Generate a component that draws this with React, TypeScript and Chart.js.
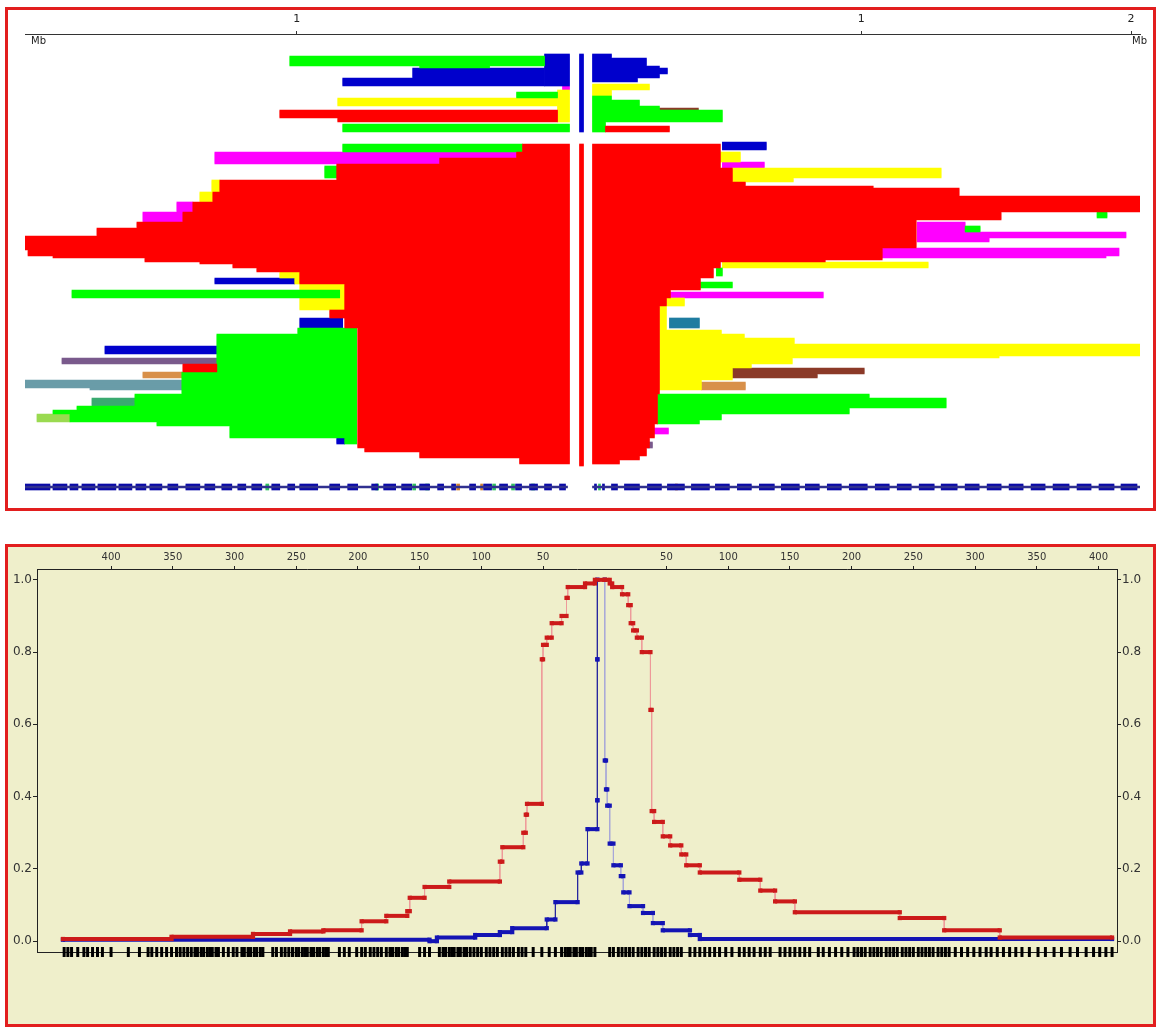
import React, { useEffect, useRef } from 'react';
import { Chart, registerables } from 'chart.js';

Chart.register(...registerables);

// ---------- Top panel: haplotype bifurcation (rows = haplotype index, x = kb from core) ----------
const ROW_COUNT = 232;
const axisTickValues = [-284, 281, 551];
const axisTickLabels = ['1', '1', '2'];

// [rowStart, rowEnd, kbFrom, kbTo]
const redBlocks = [
  [38, 42, -301, -23], [42, 44, -243, -23], [46, 49, 25, 89],
  [55, 216, -1, 3],
  [55, 59, -58, -11], [59, 62, -64, -11], [62, 65, -141, -11], [65, 73, -244, -11], [73, 79, -361, -11],
  [79, 84, -368, -11], [84, 89, -388, -11], [89, 94, -398, -11], [94, 97, -444, -11], [97, 101, -484, -11],
  [101, 108, -556, -11], [108, 111, -553, -11], [111, 112, -528, -11], [112, 114, -436, -11], [114, 115, -381, -11],
  [115, 117, -348, -11], [117, 119, -324, -11], [119, 125, -281, -11], [125, 147, -236, -11], [138, 142, -251, -236],
  [147, 207, -223, -11], [165, 169, -398, -364], [207, 209, -216, -11], [209, 212, -161, -11], [212, 215, -61, -11],
  [55, 67, 12, 140], [67, 74, 12, 152], [74, 76, 12, 165], [76, 77, 12, 293], [77, 81, 12, 379], [81, 89, 12, 560],
  [89, 93, 12, 421], [93, 107, 12, 336], [107, 113, 12, 302], [113, 114, 12, 245], [114, 117, 12, 140],
  [117, 122, 12, 133], [122, 128, 12, 120], [128, 132, 12, 90], [132, 136, 12, 86], [136, 180, 12, 79],
  [180, 195, 12, 77], [195, 202, 12, 74], [202, 207, 12, 69], [207, 211, 12, 66], [211, 213, 12, 59], [213, 215, 12, 39],
];
const greenBlocks = [
  [11, 16, -291, -36], [16, 17, -161, -91], [29, 32, -64, -23], [45, 49, -238, -11],
  [31, 33, 12, 31], [33, 36, 12, 59], [36, 38, 12, 79], [38, 44, 12, 142], [44, 49, 12, 25],
  [55, 59, -238, -58], [66, 72, -256, -244], [128, 132, -509, -241], [147, 150, -283, -224], [150, 169, -364, -224],
  [169, 180, -399, -224], [180, 186, -446, -224], [186, 188, -504, -224], [188, 190, -528, -224], [190, 194, -511, -224],
  [194, 196, -424, -224], [196, 202, -351, -224], [202, 205, -236, -224],
  [89, 92, 517, 527], [96, 99, 385, 400], [117, 121, 136, 142], [124, 127, 120, 152], [180, 182, 77, 289],
  [182, 187, 77, 366], [187, 190, 77, 269], [190, 193, 77, 141], [193, 195, 77, 119],
];
const yellowBlocks = [
  [28, 44, -23, -11], [32, 36, -243, -23], [25, 28, 12, 69], [28, 31, 12, 31],
  [73, 79, -369, -361], [79, 84, -381, -368], [119, 122, -301, -281], [122, 125, -286, -281], [125, 128, -281, -236],
  [128, 132, -241, -236], [132, 138, -281, -236],
  [59, 64, 140, 160], [67, 72, 152, 361], [72, 74, 152, 213], [114, 117, 142, 348], [132, 136, 86, 104],
  [136, 148, 79, 86], [148, 150, 79, 141], [150, 152, 79, 164], [152, 155, 79, 214], [155, 161, 79, 560],
  [161, 162, 79, 419], [162, 165, 79, 212], [165, 167, 79, 171], [167, 173, 79, 152], [173, 178, 79, 121],
];
const blueBlocks = [
  [10, 26, -36, -11], [17, 22, -168, -36], [22, 26, -238, -36], [10, 49, -1, 3],
  [10, 12, 12, 31], [12, 16, 12, 66], [16, 17, 12, 79], [17, 20, 12, 87], [20, 22, 12, 79], [22, 24, 12, 57],
  [122, 125, -366, -286], [142, 147, -281, -238], [156, 160, -476, -364], [202, 205, -244, -236],
  [54, 58, 142, 186],
];
const magentaBlocks = [
  [26, 28, -18, -11], [59, 62, -366, -64], [62, 65, -366, -141], [84, 89, -404, -388], [89, 94, -438, -398],
  [64, 67, 142, 184], [94, 99, 337, 385], [99, 102, 337, 546], [102, 104, 337, 409], [107, 111, 302, 539],
  [111, 112, 302, 526], [129, 132, 90, 243], [197, 200, 74, 88],
];
const brownBlocks = [[37, 40, 79, 118], [167, 170, 152, 284], [170, 172, 152, 237]];
const orangeBlocks = [[169, 172, -438, -399], [174, 178, 121, 165]];
const slateBlocks = [[173, 177, -556, -399], [177, 178, -491, -399]];
const tealBlueBlocks = [[142, 147, 89, 119]];
const purpleBlocks = [[162, 165, -519, -364], [204, 207, 67, 72]];
const seaGreenBlocks = [[182, 186, -489, -446]];
const paleGreenBlocks = [[190, 194, -544, -511]];
const markerLineBlocks = [[226, 227, -556, -13], [226, 227, 12, 560]];
const markerBlocks = [
  [225, 228, -556, -531], [225, 228, -528, -514], [225, 228, -511, -503], [225, 228, -499, -486], [225, 228, -483, -465],
  [225, 228, -462, -449], [225, 228, -445, -435], [225, 228, -431, -419], [225, 228, -413, -403], [225, 228, -395, -381],
  [225, 228, -376, -366], [225, 228, -359, -349], [225, 228, -343, -335], [225, 228, -329, -319], [225, 228, -309, -301],
  [225, 228, -293, -286], [225, 228, -281, -263], [225, 228, -251, -241], [225, 228, -233, -223], [225, 228, -209, -203],
  [225, 228, -197, -185], [225, 228, -179, -169], [225, 228, -161, -151], [225, 228, -143, -137], [225, 228, -129, -125],
  [225, 228, -111, -105], [225, 228, -97, -89], [225, 228, -81, -73], [225, 228, -65, -59], [225, 228, -51, -43],
  [225, 228, -36, -29], [225, 228, -21, -15],
  [225, 228, 14, 16], [225, 228, 22, 24], [225, 228, 31, 37], [225, 228, 44, 59], [225, 228, 67, 81], [225, 228, 87, 104],
  [225, 228, 111, 129], [225, 228, 135, 149], [225, 228, 157, 171], [225, 228, 179, 194], [225, 228, 201, 219],
  [225, 228, 225, 239], [225, 228, 247, 261], [225, 228, 269, 287], [225, 228, 295, 309], [225, 228, 317, 331],
  [225, 228, 339, 354], [225, 228, 361, 377], [225, 228, 385, 399], [225, 228, 407, 421], [225, 228, 429, 443],
  [225, 228, 451, 465], [225, 228, 473, 489], [225, 228, 497, 511], [225, 228, 519, 534], [225, 228, 541, 557],
];
const markerAccentGreen = [
  [225, 228, -315, -312], [225, 228, -205, -202], [225, 228, -168, -165], [225, 228, -155, -152],
  [225, 228, -88, -85], [225, 228, -69, -66], [225, 228, -49, -46], [225, 228, 18, 20],
];
const markerAccentOrange = [[225, 228, -124, -121], [225, 228, -100, -98], [225, 228, 95, 97]];

// ---------- Bottom panel: EHH decay (x = kb from core, left side negative) ----------
const distTicks = [-400, -350, -300, -250, -200, -150, -100, -50, 50, 100, 150, 200, 250, 300, 350, 400];
const ehhTicks = [0, 0.2, 0.4, 0.6, 0.8, 1.0];

const redLeftEnd = [-8, -16, -30, -31, -35, -43, -47, -50, -51, -63, -64, -66, -83, -85, -126, -146, -158, -160, -177, -197, -228, -255, -285, -351, -439];
const redLeftEhh = [1.0, 0.99, 0.98, 0.95, 0.9, 0.88, 0.84, 0.82, 0.78, 0.38, 0.35, 0.3, 0.26, 0.22, 0.165, 0.15, 0.12, 0.083, 0.07, 0.055, 0.03, 0.027, 0.02, 0.012, 0.006];
const redRightEnd = [4, 6, 14, 19, 21, 23, 26, 30, 37, 38, 40, 47, 53, 62, 66, 77, 109, 126, 138, 154, 239, 275, 320, 411];
const redRightEhh = [1.0, 0.99, 0.98, 0.96, 0.93, 0.88, 0.86, 0.84, 0.8, 0.64, 0.36, 0.33, 0.29, 0.265, 0.24, 0.21, 0.19, 0.17, 0.14, 0.11, 0.08, 0.064, 0.03, 0.01];
const blueLeftEnd = [-6, -6, -6, -14, -19, -22, -40, -47, -75, -85, -105, -136, -142, -439];
const blueLeftEhh = [1.0, 0.78, 0.39, 0.31, 0.215, 0.19, 0.108, 0.06, 0.036, 0.025, 0.017, 0.01, 0.0, 0.004];
const blueRightEnd = [0, 1, 2, 4, 7, 13, 15, 20, 31, 39, 47, 69, 77, 411];
const blueRightEhh = [1.0, 0.5, 0.42, 0.375, 0.27, 0.21, 0.18, 0.135, 0.097, 0.078, 0.05, 0.03, 0.017, 0.006];

const snpLeft = [-438, -435, -432, -427, -422, -419, -415, -411, -407, -400, -386, -377, -370, -367, -363, -359, -355, -351, -347, -344, -341, -338, -335, -332, -330, -327, -325, -322, -320, -318, -315, -313, -309, -305, -301, -298, -294, -292, -289, -287, -284, -282, -279, -277, -269, -266, -262, -259, -256, -253, -250, -248, -245, -243, -241, -238, -236, -233, -231, -228, -226, -224, -215, -211, -207, -201, -197, -194, -190, -187, -184, -181, -177, -174, -172, -169, -167, -164, -162, -160, -150, -146, -142, -134, -131, -129, -126, -124, -122, -119, -117, -114, -112, -109, -106, -103, -100, -96, -93, -90, -87, -83, -80, -77, -74, -70, -67, -64, -58, -51, -45, -40, -35, -32, -30, -28, -25, -23, -20, -18, -15, -13, -11, -8];
const snpRight = [4, 7, 11, 14, 17, 20, 23, 27, 30, 33, 36, 40, 43, 46, 49, 53, 56, 59, 62, 69, 73, 77, 81, 85, 89, 93, 98, 103, 109, 113, 117, 121, 126, 130, 134, 142, 146, 150, 154, 158, 162, 166, 173, 177, 182, 187, 192, 197, 202, 205, 208, 211, 215, 218, 221, 224, 228, 231, 234, 237, 241, 244, 247, 250, 254, 257, 260, 263, 266, 270, 273, 276, 279, 284, 289, 294, 299, 304, 309, 313, 318, 323, 328, 333, 338, 344, 351, 357, 364, 370, 377, 383, 390, 396, 401, 406, 411];

const FONT = '"DejaVu Sans", sans-serif';
const rowLabels = Array.from({ length: ROW_COUNT }, (_, i) => `h${i}`);

function expand(blocks: number[][]) {
  const out: { x: number[]; y: string }[] = [];
  blocks.forEach(([r0, r1, x0, x1]) => {
    for (let r = r0; r < r1; r++) out.push({ x: [x0, x1], y: rowLabels[r] });
  });
  return out;
}

function stepPoints(start: number, ends: number[], ehh: number[]) {
  const pts = [{ x: start, y: ehh[0] }];
  ends.forEach((e, i) => {
    pts.push({ x: e, y: ehh[i] });
    if (i + 1 < ehh.length) pts.push({ x: e, y: ehh[i + 1] });
  });
  return pts;
}

function barSet(blocks: number[][], color: string) {
  return {
    data: expand(blocks),
    backgroundColor: color,
    borderWidth: 0,
    barPercentage: 1,
    categoryPercentage: 1,
    grouped: false,
  };
}

function curveSet(pts: { x: number; y: number }[], dark: string, pale: string) {
  return {
    data: pts,
    showLine: true,
    borderColor: dark,
    backgroundColor: dark,
    borderWidth: 4,
    borderCapStyle: 'butt',
    pointStyle: 'rect',
    pointRadius: 3,
    pointBorderWidth: 0,
    pointBackgroundColor: dark,
    segment: {
      borderWidth: (ctx: any) => (ctx.p0.parsed.y === ctx.p1.parsed.y ? 4 : 1),
      borderColor: (ctx: any) => (ctx.p0.parsed.y === ctx.p1.parsed.y ? dark : pale),
    },
  };
}

export default function App() {
  const topRef = useRef<HTMLCanvasElement>(null);
  const botRef = useRef<HTMLCanvasElement>(null);

  useEffect(() => {
    const top = new Chart(topRef.current!, {
      type: 'bar',
      data: {
        labels: rowLabels,
        datasets: [
          barSet(redBlocks, '#FF0000'),
          barSet(greenBlocks, '#00FF00'),
          barSet(yellowBlocks, '#FFFF00'),
          barSet(blueBlocks, '#0000CC'),
          barSet(magentaBlocks, '#FF00FF'),
          barSet(brownBlocks, '#8B3A28'),
          barSet(orangeBlocks, '#D8904A'),
          barSet(slateBlocks, '#6A9CA8'),
          barSet(tealBlueBlocks, '#1F7CA0'),
          barSet(purpleBlocks, '#7A5A8C'),
          barSet(seaGreenBlocks, '#3AAA70'),
          barSet(paleGreenBlocks, '#9ADA50'),
          barSet(markerLineBlocks, '#303090'),
          barSet(markerBlocks, '#0A0AA8'),
          barSet(markerAccentGreen, '#30C060'),
          barSet(markerAccentOrange, '#D08030'),
        ] as any,
      },
      options: {
        indexAxis: 'y',
        animation: false,
        responsive: false,
        events: [],
        layout: { padding: { left: 17, right: 13, top: 0, bottom: 10 } },
        plugins: { legend: { display: false }, tooltip: { enabled: false } },
        scales: {
          x: {
            type: 'linear',
            position: 'top',
            min: -556,
            max: 560,
            afterBuildTicks: (s: any) => {
              s.ticks = axisTickValues.map((v) => ({ value: v }));
            },
            afterFit: (s: any) => {
              s.height = 24;
            },
            ticks: {
              autoSkip: false,
              maxRotation: 0,
              padding: 5,
              color: '#222',
              font: { family: FONT, size: 11 },
              callback: (_v: any, i: number) => axisTickLabels[i],
            },
            grid: { drawOnChartArea: false, drawTicks: true, tickLength: 3, color: '#333' },
            border: { display: true, color: '#333', width: 1 },
          },
          y: { type: 'category', display: false },
        },
      } as any,
    });

    const bot = new Chart(botRef.current!, {
      type: 'scatter',
      data: {
        datasets: [
          curveSet(stepPoints(0, redLeftEnd, redLeftEhh), '#CC1A1A', '#EE9A9A'),
          curveSet(stepPoints(0, redRightEnd, redRightEhh), '#CC1A1A', '#EE9A9A'),
          curveSet(stepPoints(-6, blueLeftEnd, blueLeftEhh), '#1414B4', '#2828A0'),
          curveSet(stepPoints(0, blueRightEnd, blueRightEhh), '#1414B4', '#A8A8D8'),
          {
            data: [...snpLeft, ...snpRight].map((v) => ({ x: v, y: -0.03 })),
            showLine: false,
            pointStyle: 'line',
            rotation: 90,
            pointRadius: 5,
            borderWidth: 3,
            borderColor: '#000',
            pointBorderColor: '#000',
            clip: false,
          },
        ] as any,
      },
      options: {
        animation: false,
        responsive: false,
        events: [],
        layout: { padding: 0 },
        plugins: { legend: { display: false }, tooltip: { enabled: false } },
        scales: {
          x: {
            type: 'linear',
            position: 'top',
            min: -460,
            max: 415,
            afterBuildTicks: (s: any) => {
              s.ticks = distTicks.map((v) => ({ value: v }));
            },
            afterFit: (s: any) => {
              s.height = 22;
            },
            ticks: {
              autoSkip: false,
              maxRotation: 0,
              padding: 3,
              color: '#333',
              font: { family: FONT, size: 10 },
              callback: (v: any) => String(Math.abs(v)),
            },
            grid: { drawOnChartArea: false, drawTicks: true, tickLength: 3, color: '#222' },
            border: { display: true, color: '#222', width: 1 },
          },
          x2: {
            type: 'linear',
            position: 'bottom',
            min: -460,
            max: 415,
            afterFit: (s: any) => {
              s.height = 72;
            },
            ticks: { display: false },
            grid: { display: false },
            border: { display: true, color: '#222', width: 1 },
          },
          y: {
            type: 'linear',
            position: 'left',
            min: -0.03,
            max: 1.03,
            afterBuildTicks: (s: any) => {
              s.ticks = ehhTicks.map((v) => ({ value: v }));
            },
            afterFit: (s: any) => {
              s.width = 29;
            },
            ticks: {
              padding: 1,
              color: '#333',
              font: { family: FONT, size: 12 },
              callback: (v: any) => Number(v).toFixed(1),
            },
            grid: { drawOnChartArea: false, drawTicks: true, tickLength: 4, color: '#222' },
            border: { display: true, color: '#222', width: 1 },
          },
          y2: {
            type: 'linear',
            position: 'right',
            min: -0.03,
            max: 1.03,
            afterBuildTicks: (s: any) => {
              s.ticks = ehhTicks.map((v) => ({ value: v }));
            },
            afterFit: (s: any) => {
              s.width = 36;
            },
            ticks: {
              padding: 1,
              color: '#333',
              font: { family: FONT, size: 12 },
              callback: (v: any) => Number(v).toFixed(1),
            },
            grid: { drawOnChartArea: false, drawTicks: true, tickLength: 4, color: '#222' },
            border: { display: true, color: '#222', width: 1 },
          },
        },
      } as any,
    });

    return () => {
      top.destroy();
      bot.destroy();
    };
  }, []);

  const panelBorder = '3px solid #E21E1E';
  const mbStyle: React.CSSProperties = {
    position: 'absolute',
    top: 26,
    font: `10px ${FONT}`,
    color: '#222',
    lineHeight: 1,
  };

  return (
    <div style={{ position: 'absolute', left: 0, top: 0, width: 1158, height: 1028, background: '#fff' }}>
      <div
        style={{
          position: 'absolute',
          left: 5,
          top: 7,
          width: 1145,
          height: 498,
          border: panelBorder,
          background: '#fff',
          overflow: 'hidden',
        }}
      >
        <canvas ref={topRef} width={1145} height={498} style={{ display: 'block' }} />
        <span style={{ ...mbStyle, left: 23 }}>Mb</span>
        <span style={{ ...mbStyle, left: 1124 }}>Mb</span>
      </div>
      <div
        style={{
          position: 'absolute',
          left: 5,
          top: 544,
          width: 1145,
          height: 477,
          border: panelBorder,
          background: '#EFEFCB',
          overflow: 'hidden',
        }}
      >
        <canvas ref={botRef} width={1145} height={477} style={{ display: 'block' }} />
      </div>
    </div>
  );
}
